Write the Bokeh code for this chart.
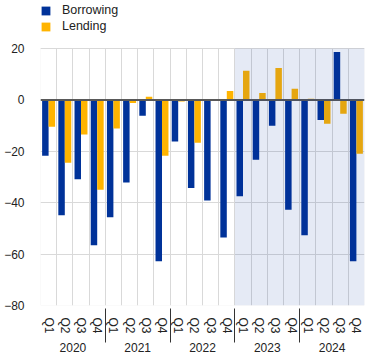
from bokeh.plotting import figure
from bokeh.models import (FactorRange, ColumnDataSource, Legend, LegendItem, Span,
                          BoxAnnotation, FixedTicker)
from bokeh.transform import dodge
from bokeh.embed import file_html
from bokeh.resources import INLINE

years = ["2020", "2021", "2022", "2023", "2024"]
quarters = ["Q1", "Q2", "Q3", "Q4"]
borrowing = [-21.7, -44.9, -30.9, -56.6, -45.7, -32.1, -6.2, -62.8, -16.2, -34.3,
             -39.1, -53.5, -37.5, -23.3, -10.1, -42.7, -52.7, -7.8, 18.6, -62.8]
lending = [-10.4, -24.5, -13.5, -35.0, -11.1, -1.2, 1.2, -21.7, -0.6, -16.7,
           0.0, 3.5, 11.3, 2.7, 12.4, 4.3, 0.4, -9.3, -5.4, -21.0]
y_ticks = [-80, -60, -40, -20, 0, 20]
highlight_years = ["2023", "2024"]

BLUE = "#003299"
YELLOW = "#FFB400"
GRID = "#d9d9d9"
FONT = "Liberation Sans"
TXT = "#222222"

y_min, y_max = y_ticks[0], y_ticks[-1]
# plot area: 257 px for the value axis, plus 48 px of room on top for the legend
y_top = y_max + (y_max - y_min) * 48 / 257

factors = [(y, q) for y in years for q in quarters]
src = ColumnDataSource(dict(x=factors, borrowing=borrowing, lending=lending))

xr = FactorRange(factors=factors, factor_padding=0, group_padding=0, range_padding=0)
p = figure(width=370, height=356, x_range=xr, y_range=(y_min, y_top),
           output_backend="svg", toolbar_location=None,
           min_border_left=40, min_border_right=6, min_border_top=0, min_border_bottom=51)
p.outline_line_color = None

rb = p.vbar(x=dodge("x", -0.2, range=p.x_range), top="borrowing", width=0.4,
            source=src, fill_color=BLUE, line_color=None)
rl = p.vbar(x=dodge("x", 0.2, range=p.x_range), top="lending", width=0.4,
            source=src, fill_color=YELLOW, line_color=None)

# grids
p.xgrid.ticker = FixedTicker(ticks=list(range(len(factors) + 1)))
p.xgrid.cross_bounds = (y_min, y_max)
p.xgrid.grid_line_color = GRID
p.ygrid.ticker = FixedTicker(ticks=y_ticks)
p.ygrid.grid_line_color = GRID
# frame of the value area
p.add_layout(BoxAnnotation(left=0, right=len(factors), bottom=y_min, top=y_max,
                           fill_color=None, line_color=GRID, line_width=1, level="underlay"))

p.add_layout(Span(location=0, dimension="width", line_color="#595959", line_width=2))

# highlighted period
hl_left = factors.index((highlight_years[0], quarters[0]))
hl_right = factors.index((highlight_years[-1], quarters[-1])) + 1
p.add_layout(BoxAnnotation(left=hl_left, right=hl_right, bottom=y_min, top=y_max,
                           fill_color=BLUE, fill_alpha=0.1, line_color=None))

# y axis
p.yaxis.ticker = FixedTicker(ticks=y_ticks)
p.yaxis.axis_line_color = None
p.yaxis.major_tick_line_color = None
p.yaxis.minor_tick_line_color = None
p.yaxis.major_label_standoff = 10
p.yaxis.major_label_text_font = FONT
p.yaxis.major_label_text_font_size = "12px"
p.yaxis.major_label_text_color = TXT

# x axis
xa = p.xaxis[0]
xa.axis_line_color = None
xa.major_tick_line_color = None
xa.minor_tick_line_color = None
xa.major_label_orientation = "vertical"
xa.major_label_standoff = 6
xa.major_label_text_font = FONT
xa.major_label_text_font_size = "12px"
xa.major_label_text_color = TXT
xa.group_text_font = FONT
xa.group_text_font_size = "12px"
xa.group_text_color = TXT
xa.group_text_font_style = "normal"
xa.separator_line_color = "#333333"
xa.separator_line_width = 1

legend = Legend(items=[LegendItem(label="Borrowing", renderers=[rb]),
                       LegendItem(label="Lending", renderers=[rl])],
                location=(0, 272), orientation="vertical",
                glyph_width=11, glyph_height=11, label_standoff=11, spacing=2,
                padding=0, margin=0, border_line_color=None, background_fill_alpha=0,
                label_text_font=FONT, label_text_font_size="12.5px", label_text_color=TXT)
p.add_layout(legend, "center")

open("out.html", "w").write(file_html(p, INLINE))
